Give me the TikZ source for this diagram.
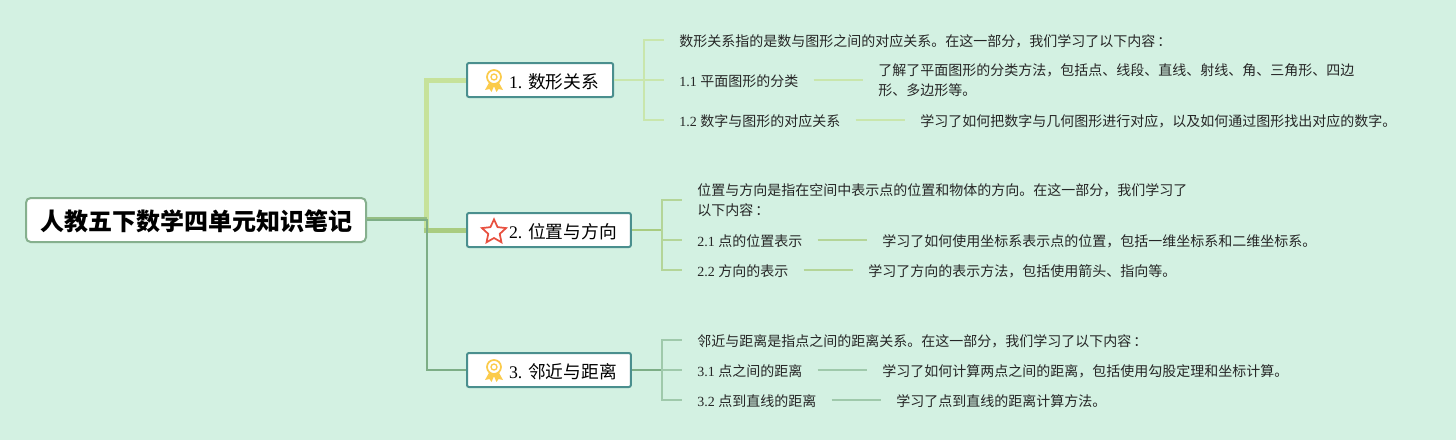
\documentclass[tikz,border=0pt]{standalone}
\usepackage{fontspec}
\setmainfont{Liberation Serif}
\newfontfamily\cjk{Noto Sans CJK SC}
\usetikzlibrary{shapes.geometric}
\definecolor{paper}{HTML}{D3F1E2}
\definecolor{rootedge}{HTML}{86B08E}
\definecolor{tealedge}{HTML}{4A8F8E}
\definecolor{limeline}{HTML}{C6E29A}
\definecolor{oliveline}{HTML}{A9CC80}
\definecolor{sageline}{HTML}{7DAE86}
\definecolor{medalgold}{HTML}{FBCB4B}
\definecolor{starred}{HTML}{E8503F}
\newcommand{\zhcolon}{\hspace{1.5pt}：}
\tikzstyle{rootbox} = [rectangle, draw=rootedge, fill=white, line width=1.5pt, rounded corners=3.5pt, text centered, anchor=west, minimum width=255pt, minimum height=33pt, font=\fontsize{18}{22}\selectfont\cjk\bfseries, execute at begin node=\rule{0pt}{17.3pt}]
\tikzstyle{branch} = [rectangle, draw=tealedge, fill=white, line width=1.5pt, rounded corners=1.5pt, anchor=west, inner xsep=10.5pt, minimum height=25.5pt, font=\fontsize{13.3}{16}\selectfont, execute at begin node=\rule{0pt}{13.6pt}]
\tikzstyle{leaf} = [anchor=west, align=left, inner xsep=11.25pt, inner ysep=0pt, text=black!85, font=\fontsize{10.5}{15}\selectfont, execute at begin node=\rule{0pt}{10.7pt}]
\tikzstyle{starmark} = [star, star points=5, star point ratio=2.1, draw=starred, fill=white, line width=1.3pt, minimum size=19pt, inner sep=0pt]
\tikzstyle{medalring} = [circle, draw=medalgold, fill=white, line width=1.3pt, minimum size=10.5pt, inner sep=0pt]
\tikzstyle{medalhole} = [circle, draw=medalgold, line width=1pt, minimum size=4.5pt, inner sep=0pt]
\tikzstyle{connector} = [draw, line cap=butt]
\tikzstyle{twiglime} = [connector, limeline!75!paper, line width=1.2pt]
\tikzstyle{twigolive} = [connector, oliveline!75!paper, line width=1.2pt]
\tikzstyle{twigsage} = [connector, sageline!60!paper, line width=1.2pt]
\newcommand{\medalicon}[2]{
    \fill [medalgold, shift={(#2)}] (-4,4) -- (-9,13) -- (-4.5,12) -- (-2.5,15) -- (1,7) -- cycle;
    \fill [medalgold, shift={(#2)}] (4,4) -- (9,13) -- (4.5,12) -- (2.5,15) -- (-1,7) -- cycle;
    \node [medalring] at (#2) (#1) {};
    \node [medalhole] at (#2) (#1hole) {};
}
\begin{document}
\begin{tikzpicture}[x=0.75pt, y=-0.75pt]
    \fill [paper] (0,0) rectangle (1456,440);
    \useasboundingbox (0,0) rectangle (1456,440);

    \node [rootbox] at (25,220) (root) {人教五下数学四单元知识笔记};

    \node [branch] at (466,80) (shape) {\hspace*{21pt}1. {\cjk 数形关系}};
    \node [branch] at (466,230) (place) {\hspace*{21pt}2. {\cjk 位置与方向}};
    \node [branch] at (466,370) (near) {\hspace*{21pt}3. {\cjk 邻近与距离}};

    \coordinate (trunk1) at (426.5,80);
    \coordinate (trunk2) at (426.5,233);
    \coordinate (trunk3) at (427,370);
    \coordinate (rootout) at (427,220);
    \coordinate (hub1) at (644,80);
    \coordinate (hub2) at (662,230);
    \coordinate (hub3) at (662,370);

    \node [leaf] at (664,40) (shapeintro) {\cjk 数形关系指的是数与图形之间的对应关系。在这一部分，我们学习了以下内容\zhcolon};
    \node [leaf] at (664,80) (shapea) {1.1 {\cjk 平面图形的分类}};
    \node [leaf] at (664,120) (shapeb) {1.2 {\cjk 数字与图形的对应关系}};
    \node [leaf] at (863,80) (shapeatext) {\cjk 了解了平面图形的分类方法，包括点、线段、直线、射线、角、三角形、四边\\\cjk 形、多边形等。};
    \node [leaf] at (905,120) (shapebtext) {\cjk 学习了如何把数字与几何图形进行对应，以及如何通过图形找出对应的数字。};

    \node [leaf] at (682,200) (placeintro) {\cjk 位置与方向是指在空间中表示点的位置和物体的方向。在这一部分，我们学习了\\\cjk 以下内容\zhcolon};
    \node [leaf] at (682,240) (placea) {2.1 {\cjk 点的位置表示}};
    \node [leaf] at (682,270) (placeb) {2.2 {\cjk 方向的表示}};
    \node [leaf] at (867,240) (placeatext) {\cjk 学习了如何使用坐标系表示点的位置，包括一维坐标系和二维坐标系。};
    \node [leaf] at (853,270) (placebtext) {\cjk 学习了方向的表示方法，包括使用箭头、指向等。};

    \node [leaf] at (682,340) (nearintro) {\cjk 邻近与距离是指点之间的距离关系。在这一部分，我们学习了以下内容\zhcolon};
    \node [leaf] at (682,370) (neara) {3.1 {\cjk 点之间的距离}};
    \node [leaf] at (682,400) (nearb) {3.2 {\cjk 点到直线的距离}};
    \node [leaf] at (867,370) (nearatext) {\cjk 学习了如何计算两点之间的距离，包括使用勾股定理和坐标计算。};
    \node [leaf] at (881,400) (nearbtext) {\cjk 学习了点到直线的距离计算方法。};

    % main branches
    \path [connector, limeline, line width=3.75pt, line join=miter] (trunk2) -- (trunk1) -- (shape.west);
    \path [connector, oliveline, line width=3.75pt] ([xshift=-2pt]place.west -| trunk2) -- (place.west);
    \path [connector, oliveline!55!sageline, line width=3.2pt] ([yshift=0.5pt]root.east) -- ([yshift=0.5pt]rootout);
    \path [connector, sageline, line width=1.5pt] (root.east) -- (rootout) -- (trunk3) -- (near.west);

    % leaves
    \path [twiglime] (shape.east) -- (hub1);
    \path [twiglime] (hub1) |- (shapeintro.west);
    \path [twiglime] (hub1) -- (shapea.west);
    \path [twiglime] (hub1) |- (shapeb.west);
    \path [twiglime] (shapea.east) -- (shapeatext.west);
    \path [twiglime] (shapeb.east) -- (shapebtext.west);

    \path [connector, oliveline, line width=1.2pt] (place.east) -- (hub2);
    \path [twigolive] (hub2) |- (placeintro.west);
    \path [twigolive] (hub2) |- (placea.west);
    \path [twigolive] (hub2) |- (placeb.west);
    \path [twigolive] (placea.east) -- (placeatext.west);
    \path [twigolive] (placeb.east) -- (placebtext.west);

    \path [connector, sageline, line width=1.2pt] (near.east) -- (hub3);
    \path [twigsage] (hub3) |- (nearintro.west);
    \path [twigsage] (hub3) -- (neara.west);
    \path [twigsage] (hub3) |- (nearb.west);
    \path [twigsage] (neara.east) -- (nearatext.west);
    \path [twigsage] (nearb.east) -- (nearbtext.west);

    \medalicon{medalone}{494,77}
    \node [starmark] at (494,232) (starmark) {};
    \medalicon{medaltwo}{494,367}
\end{tikzpicture}
\end{document}
